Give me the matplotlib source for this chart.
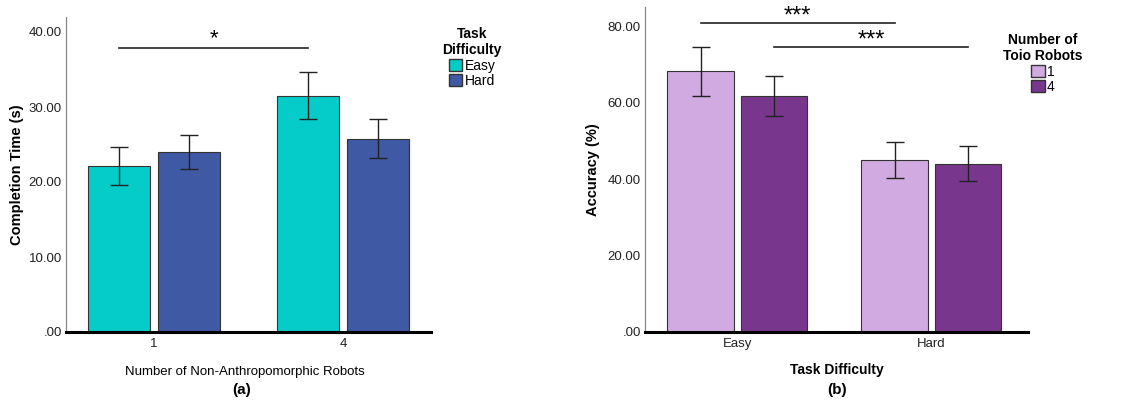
import matplotlib.pyplot as plt
from matplotlib.patches import Patch

plt.rcParams['font.family'] = ['Liberation Sans', 'DejaVu Sans']

# panel (a): completion time
robots = ["1", "4"]
time_easy = [22.1, 31.5]
time_hard = [24.0, 25.8]
time_easy_err = [2.55, 3.15]
time_hard_err = [2.25, 2.65]

# panel (b): accuracy
difficulty = ["Easy", "Hard"]
acc_one = [68.2, 45.0]
acc_four = [61.8, 44.0]
acc_one_err = [6.4, 4.8]
acc_four_err = [5.2, 4.6]

c_easy, c_hard = '#05ccc9', '#3f59a4'
c_one, c_four = '#d0aae0', '#78378c'
edge = '#333333'


def style_axes(ax):
    for s in ['top', 'right']:
        ax.spines[s].set_visible(False)
    ax.spines['left'].set_color('#888888')
    ax.spines['left'].set_linewidth(0.9)
    ax.spines['bottom'].set_color('black')
    ax.spines['bottom'].set_linewidth(2.2)
    ax.tick_params(axis='both', length=0, labelsize=9.5, colors='#222222')
    ax.tick_params(axis='y', pad=3)
    ax.tick_params(axis='x', pad=4)


def fmt(v):
    s = f"{v:.2f}"
    return s[1:] if s.startswith("0") else s


def grouped(ax, cats, a, b, ea, eb, ca, cb, w, off):
    x = list(range(len(cats)))
    xa = [i - off for i in x]
    xb = [i + off for i in x]
    ekw = dict(ecolor='#222222', elinewidth=1.0, capsize=6.5, capthick=1.0)
    ax.bar(xa, a, w, color=ca, edgecolor=edge, linewidth=0.8, yerr=ea, error_kw=ekw)
    ax.bar(xb, b, w, color=cb, edgecolor=edge, linewidth=0.8, yerr=eb, error_kw=ekw)
    ax.set_xticks(x)
    ax.set_xticklabels(cats)
    return xa, xb


def make_legend(ax, handles, title, anchor):
    leg = ax.legend(handles=handles, title=title, frameon=False, fontsize=10,
                    title_fontproperties={'weight': 'bold', 'size': 10},
                    loc='upper center', bbox_to_anchor=anchor,
                    bbox_transform=fig.transFigure, borderpad=0, handlelength=1.0,
                    handleheight=1.0, handletextpad=0.15, labelspacing=0.1)
    leg._legend_box.align = 'center'
    leg.get_title().set_multialignment('center')
    return leg


fig = plt.figure(figsize=(11.22, 4), dpi=100)

# ---- (a)
ax1 = fig.add_axes([0.0588, 0.17, 0.3253, 0.7875])
xa, xb = grouped(ax1, robots, time_easy, time_hard, time_easy_err, time_hard_err,
                 c_easy, c_hard, 0.33, 0.185)
ax1.set_xlim(-0.466, 1.466)
ax1.set_ylim(0, 42)
ax1.set_yticks([0, 10, 20, 30, 40])
ax1.set_yticklabels([fmt(v) for v in [0, 10, 20, 30, 40]])
style_axes(ax1)
ax1.set_ylabel("Completion Time (s)", fontsize=10.5, fontweight='bold', va='center')
ax1.yaxis.set_label_coords(-0.135, 0.5)
ax1.set_xlabel("Number of Non-Anthropomorphic Robots", fontsize=9.5, va='center')
ax1.xaxis.set_label_coords(0.49, -0.127)
ax1.text(0.482, -0.184, "(a)", transform=ax1.transAxes, ha='center', va='center',
         fontsize=11, fontweight='bold')
ax1.plot([xa[0], xa[1]], [37.9, 37.9], color='#222222', lw=1.2)
ax1.text((xa[0] + xa[1]) / 2, 39.1, "*", ha='center', va='center', fontsize=16)
make_legend(ax1, [Patch(facecolor=c_easy, edgecolor=edge, label='Easy'),
                  Patch(facecolor=c_hard, edgecolor=edge, label='Hard')],
            "Task\nDifficulty", (472 / 1122, 1 - 20 / 400))

# ---- (b)
ax2 = fig.add_axes([0.5749, 0.17, 0.3413, 0.8125])
xa, xb = grouped(ax2, difficulty, acc_one, acc_four, acc_one_err, acc_four_err,
                 c_one, c_four, 0.343, 0.189)
ax2.set_xlim(-0.476, 1.498)
ax2.set_ylim(0, 85)
ax2.set_yticks([0, 20, 40, 60, 80])
ax2.set_yticklabels([fmt(v) for v in [0, 20, 40, 60, 80]])
style_axes(ax2)
ax2.set_ylabel("Accuracy (%)", fontsize=10.5, fontweight='bold', va='center')
ax2.yaxis.set_label_coords(-0.136, 0.5)
ax2.set_xlabel("Task Difficulty", fontsize=10, fontweight='bold', va='center')
ax2.xaxis.set_label_coords(0.501, -0.117)
ax2.text(0.501, -0.178, "(b)", transform=ax2.transAxes, ha='center', va='center',
         fontsize=11, fontweight='bold')
ax2.plot([xa[0], xa[1]], [80.9, 80.9], color='#222222', lw=1.2)
ax2.text((xa[0] + xa[1]) / 2, 82.4, "***", ha='center', va='center', fontsize=17)
ax2.plot([xb[0], xb[1]], [74.6, 74.6], color='#222222', lw=1.2)
ax2.text((xb[0] + xb[1]) / 2, 76.3, "***", ha='center', va='center', fontsize=17)
make_legend(ax2, [Patch(facecolor=c_one, edgecolor=edge, label='1'),
                  Patch(facecolor=c_four, edgecolor=edge, label='4')],
            "Number of\nToio Robots", (1043 / 1122, 1 - 26 / 400))

fig.savefig("out.png", dpi=100)
